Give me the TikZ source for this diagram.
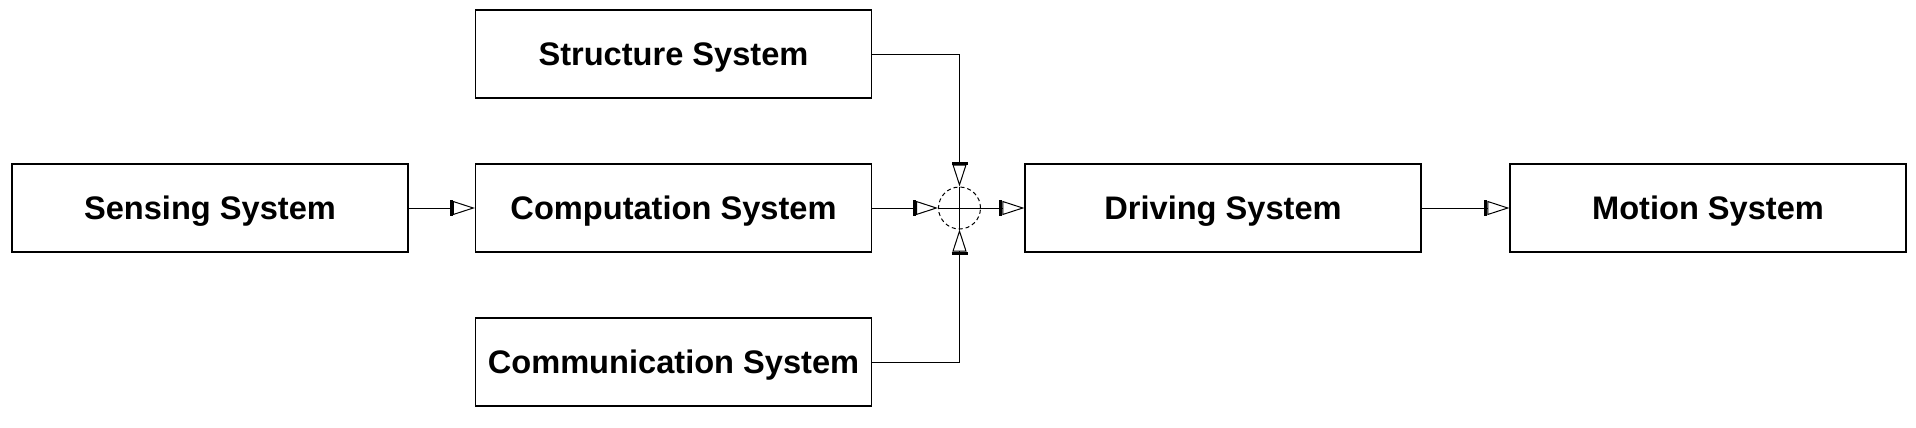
\documentclass[tikz,border=0pt]{standalone}
\usepackage{fontspec}
\setmainfont{Liberation Sans}
\usetikzlibrary{arrows.meta}
\begin{document}
\begin{tikzpicture}[x=0.5pt,y=-0.5pt]
\tikzset{
  sysbox/.style={draw,line width=0.6pt,minimum width=198pt,minimum height=44pt,
    inner sep=0pt,text depth=0pt,font=\fontsize{16.3}{19}\selectfont\bfseries},
  flow/.style={line width=0.5pt,
    -{Bar[width=8pt,line width=1.5pt]Triangle[open,length=11pt,width=7pt,line width=0.5pt]}},
  sumpoint/.style={draw,dash pattern=on 2pt off 1.5pt,circle,line width=0.5pt,
    minimum size=21pt,inner sep=0pt},
}
\useasboundingbox (0,0) rectangle (1916,428);
% blocks
\node[sysbox] (sense)  at (210,208) {Sensing System};
\node[sysbox] (struct) at (673.5,54) {Structure System};
\node[sysbox] (comp)   at (673.5,208) {Computation System};
\node[sysbox] (comm)   at (673.5,362) {Communication System};
\node[sysbox] (drive)  at (1223,208) {Driving System};
\node[sysbox] (motion) at (1708,208) {Motion System};
% summing point
\node[sumpoint] (sum) at (959.5,208) {};
% connectors
\draw[flow] (sense) -- (comp);
\draw[flow] (comp) -- (sum.west);
\draw[flow] (struct.east) -| (sum.north);
\draw[flow] (comm.east) -| (sum.south);
\draw (sum.north) -- (sum.south);
\draw[flow] (sum.west) -- (drive);
\draw[flow] (drive) -- (motion);
\end{tikzpicture}
\end{document}
